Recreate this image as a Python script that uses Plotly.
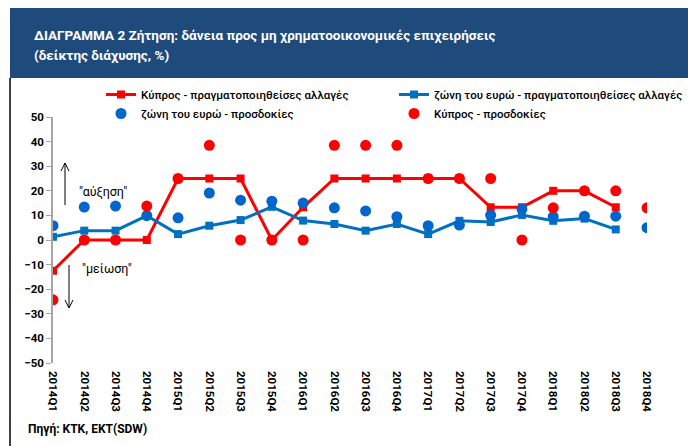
import plotly.graph_objects as go

categories = ["2014Q1", "2014Q2", "2014Q3", "2014Q4",
              "2015Q1", "2015Q2", "2015Q3", "2015Q4",
              "2016Q1", "2016Q2", "2016Q3", "2016Q4",
              "2017Q1", "2017Q2", "2017Q3", "2017Q4",
              "2018Q1", "2018Q2", "2018Q3", "2018Q4"]

cy_actual = [-12.5, 0, 0, 0, 25, 25, 25, 0, 13.3, 25, 25, 25, 25, 25, 13.3, 13.3, 20, 20, 13.3, None]
ea_actual = [1.3, 3.8, 3.8, 9.9, 2.4, 5.8, 8.1, 13.5, 7.9, 6.5, 3.8, 6.5, 2.4, 7.8, 7.3, 10.2, 7.8, 8.7, 4.3, None]
ea_expect = [5.8, 13.4, 13.8, 9.9, 9.0, 19.1, 16.2, 15.8, 15.0, 13.1, 11.8, 9.5, 5.8, 6.1, 10.1, 12.6, 9.5, 9.7, 9.7, 5.0]
cy_expect = [-24.3, 0, 0, 13.8, 25, 38.5, 0, 0, 0, 38.5, 38.5, 38.5, 25, 25, 25, 0, 13.1, 20, 20, 13.1]

names = ["Κύπρος - πραγματοποιηθείσες αλλαγές",
         "ζώνη του ευρώ - πραγματοποιηθείσες αλλαγές",
         "ζώνη του ευρώ - προσδοκίες",
         "Κύπρος - προσδοκίες"]

title1 = "ΔΙΑΓΡΑΜΜΑ 2 Ζήτηση: δάνεια προς μη χρηματοοικονομικές επιχειρήσεις"
title2 = "(δείκτης διάχυσης, %)"
source = "Πηγή: KTK, EKT(SDW)"
up_text = '"αύξηση"'
down_text = '"μείωση"'

W, H = 688, 446
L, R, T, B = 53, 41, 117, 83
PW, PH = W - L - R, H - T - B

def px(x):
    return (x - L) / PW

def py(y):
    return (H - B - y) / PH

idx = list(range(len(categories)))
RED = "#FF0000"
BLUE_L = "#0070C0"
BLUE_D = "#0066CC"
FONT = "Roboto"

fig = go.Figure()
fig.add_trace(go.Scatter(x=idx, y=cy_actual, name=names[0], mode="lines+markers",
                         line=dict(color=RED, width=3),
                         marker=dict(symbol="square", size=8, color=RED), legend="legend"))
fig.add_trace(go.Scatter(x=idx, y=ea_actual, name=names[1], mode="lines+markers",
                         line=dict(color=BLUE_L, width=3),
                         marker=dict(symbol="square", size=8, color=BLUE_L), legend="legend2"))
fig.add_trace(go.Scatter(x=idx, y=ea_expect, name=names[2], mode="markers",
                         marker=dict(symbol="circle", size=11, color=BLUE_D), legend="legend"))
fig.add_trace(go.Scatter(x=idx, y=cy_expect, name=names[3], mode="markers",
                         marker=dict(symbol="circle", size=11, color=RED), legend="legend2"))

shapes = [
    dict(type="rect", xref="paper", yref="paper", x0=px(10), x1=px(688), y0=py(78), y1=py(8),
         fillcolor="#1F4A7C", line=dict(width=0), layer="below"),
    dict(type="line", xref="paper", yref="paper", x0=px(10), x1=px(10), y0=py(446), y1=py(78),
         line=dict(color="black", width=1.5)),
    # up arrow
    dict(type="line", xref="paper", yref="paper", x0=px(65), x1=px(65), y0=py(205), y1=py(163),
         line=dict(color="black", width=1)),
    dict(type="path", xref="paper", yref="paper",
         path=f"M {px(61)},{py(171)} L {px(65)},{py(163)} L {px(69)},{py(171)}",
         line=dict(color="black", width=1)),
    # down arrow
    dict(type="line", xref="paper", yref="paper", x0=px(69), x1=px(69), y0=py(265), y1=py(308),
         line=dict(color="black", width=1)),
    dict(type="path", xref="paper", yref="paper",
         path=f"M {px(65)},{py(300)} L {px(69)},{py(308)} L {px(73)},{py(300)}",
         line=dict(color="black", width=1)),
]

annotations = [
    dict(text=title1, xref="paper", yref="paper", x=px(32), y=py(36), xanchor="left", yanchor="middle",
         showarrow=False, font=dict(family=FONT, size=13.5, color="white", weight="bold")),
    dict(text=title2, xref="paper", yref="paper", x=px(32), y=py(56), xanchor="left", yanchor="middle",
         showarrow=False, font=dict(family=FONT, size=13.5, color="white", weight="bold")),
    dict(text=source, xref="paper", yref="paper", x=px(26), y=py(429), xanchor="left", yanchor="middle",
         showarrow=False, font=dict(family=FONT, size=12, color="black", weight="bold")),
    dict(text=up_text, xref="paper", yref="paper", x=px(103), y=py(192), xanchor="center", yanchor="middle",
         showarrow=False, font=dict(family=FONT, size=12.5, color="black")),
    dict(text=down_text, xref="paper", yref="paper", x=px(107), y=py(268), xanchor="center", yanchor="middle",
         showarrow=False, font=dict(family=FONT, size=12.5, color="black")),
]

legend_font = dict(family=FONT, size=11.5, color="black", weight=500)

fig.update_layout(
    width=W, height=H,
    margin=dict(l=L, r=R, t=T, b=B, pad=0, autoexpand=False),
    paper_bgcolor="white", plot_bgcolor="white",
    font=dict(family=FONT, color="black"),
    shapes=shapes, annotations=annotations,
    showlegend=True,
    legend=dict(orientation="v", x=px(101), y=py(80), xanchor="left", yanchor="top",
                tracegroupgap=0, font=legend_font, bgcolor="rgba(0,0,0,0)", traceorder="normal"),
    legend2=dict(orientation="v", x=px(394), y=py(80), xanchor="left", yanchor="top",
                 tracegroupgap=0, font=legend_font, bgcolor="rgba(0,0,0,0)", traceorder="normal"),
    xaxis=dict(range=[0, len(categories) - 1], tickmode="array", tickvals=idx, ticktext=categories,
               tickangle=90, showline=False, ticks="", showgrid=False, zeroline=False,
               ticklabelstandoff=7,
               tickfont=dict(family=FONT, size=11.5, color="black", weight="bold")),
    xaxis2=dict(overlaying="x", anchor="free", position=0.5, matches="x",
                range=[0, len(categories) - 1], tickmode="array", tickvals=idx,
                showticklabels=False, ticks="outside", ticklen=5, tickcolor="#A6A6A6",
                showline=True, linecolor="#A6A6A6", linewidth=1.5, showgrid=False, zeroline=False),
    yaxis=dict(range=[-50, 50], dtick=10, ticks="outside", ticklen=5, tickcolor="#A6A6A6",
               showline=True, linecolor="#A6A6A6", linewidth=1.5, showgrid=False, zeroline=False,
               tickfont=dict(family=FONT, size=11.5, color="black", weight="bold")),
)

fig.write_html("out.html", config={"displayModeBar": False},
               post_script="document.body.style.margin='0';document.body.style.overflow='hidden';")
